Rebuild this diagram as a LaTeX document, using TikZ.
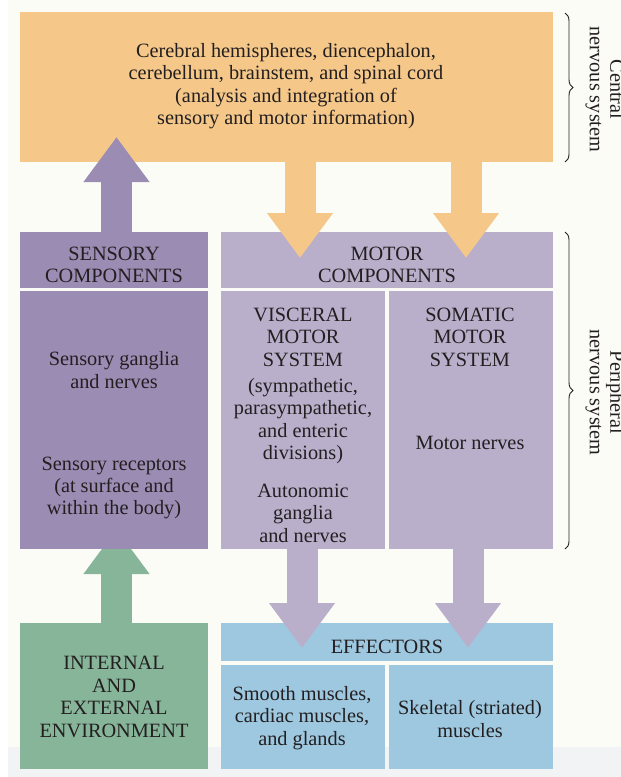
\documentclass[tikz,border=0pt]{standalone}
\usepackage{fontspec}
\setmainfont{Liberation Serif}
\usetikzlibrary{decorations.pathreplacing,arrows.meta,calc}
\definecolor{bgc}{HTML}{FCFCF7}
\definecolor{stripc}{HTML}{F2F3F5}
\definecolor{cnsc}{HTML}{F5C88A}
\definecolor{sensc}{HTML}{9B8CB4}
\definecolor{motc}{HTML}{B9AFCB}
\definecolor{envc}{HTML}{87B59A}
\definecolor{effc}{HTML}{9DC8E0}
\definecolor{txtc}{HTML}{231F20}
\tikzset{
  panel/.style={rectangle, inner sep=0pt, outer sep=0pt, anchor=north west, draw=none},
  lbl/.style={inner sep=0pt, align=center, text=txtc, yshift=-2pt, font=\fontsize{20.3}{22.4}\selectfont},
  sidelbl/.style={lbl, rotate=-90, font=\fontsize{20.3}{20.5}\selectfont},
  blockarrow/.style={line width=31pt, -{Triangle[width=63pt,length=45pt]}},
  bracestyle/.style={decorate, decoration={brace, amplitude=8pt}, draw=txtc, line width=0.9pt},
}
\begin{document}
\begin{tikzpicture}[x=1pt,y=-1pt]
\useasboundingbox (0,0) rectangle (621,777);
\fill[bgc] (0,0) rectangle (621,777);
\fill[white] (0,0) rectangle (8,777);
\fill[stripc] (8,747) rectangle (621,777);

% top level boxes
\node[panel, fill=cnsc, minimum width=533pt, minimum height=150pt] (cns) at (20,12) {};
\node[panel, fill=sensc, minimum width=188pt, minimum height=56pt] (senshead) at (20,232) {};
\node[panel, fill=motc, minimum width=332pt, minimum height=56pt] (mothead) at (221,232) {};

% CNS -> motor arrows
\coordinate (o1tip) at (300,258);
\coordinate (o2tip) at (466,258);
\draw[blockarrow, cnsc] (cns.south -| o1tip) -- (o1tip);
\draw[blockarrow, cnsc] (cns.south -| o2tip) -- (o2tip);
% sensory -> CNS arrow
\coordinate (stip) at (116.5,137);
\draw[blockarrow, sensc] (senshead.north -| stip) -- (stip);

% environment and its arrow (under sensory body box)
\node[panel, fill=envc, minimum width=188pt, minimum height=146pt] (env) at (20,623) {};
\coordinate (gtip) at (116.5,529);
\draw[blockarrow, envc] (env.north -| gtip) -- (gtip);

% PNS body boxes
\node[panel, fill=sensc, minimum width=188pt, minimum height=258pt] (sensbody) at (20,291) {};
\node[panel, fill=motc, minimum width=164pt, minimum height=258pt] (visc) at (221,291) {};
\node[panel, fill=motc, minimum width=164pt, minimum height=258pt] (soma) at (389,291) {};

% effectors
\node[panel, fill=effc, minimum width=332pt, minimum height=38pt] (effhead) at (221,623) {};
\node[panel, fill=effc, minimum width=164pt, minimum height=104pt] (effl) at (221,665) {};
\node[panel, fill=effc, minimum width=164pt, minimum height=104pt] (effr) at (389,665) {};

% motor -> effector arrows
\coordinate (p1tip) at (302,648);
\coordinate (p2tip) at (468,648);
\draw[blockarrow, motc] (visc.south -| p1tip) -- (p1tip);
\draw[blockarrow, motc] (soma.south -| p2tip) -- (p2tip);

% texts
\node[lbl] (tcns) at (286,84) {Cerebral hemispheres, diencephalon,\\cerebellum, brainstem, and spinal cord\\(analysis and integration of\\sensory and motor information)};
\node[lbl] (tsh) at (114,263) {SENSORY\\COMPONENTS};
\node[lbl] (tmh) at (387,263) {MOTOR\\COMPONENTS};
\node[lbl] (tsg) at (114,368) {Sensory ganglia\\and nerves};
\node[lbl] (tsr) at (114,486) {Sensory receptors\\(at surface and\\within the body)};
\node[lbl] (tvh) at (303,335) {VISCERAL\\MOTOR\\SYSTEM};
\node[lbl] (tvd) at (303,419) {(sympathetic,\\parasympathetic,\\and enteric\\divisions)};
\node[lbl] (tva) at (303,511) {Autonomic\\ganglia\\and nerves};
\node[lbl] (tsoh) at (470,335) {SOMATIC\\MOTOR\\SYSTEM};
\node[lbl] (tmn) at (470,441) {Motor nerves};
\node[lbl] (teh) at (387,645) {EFFECTORS};
\node[lbl] (tel) at (302,716) {Smooth muscles,\\cardiac muscles,\\and glands};
\node[lbl] (ter) at (470,717) {Skeletal (striated)\\muscles};
\node[lbl] (tenv) at (114,695) {INTERNAL\\AND\\EXTERNAL\\ENVIRONMENT};

% braces
\coordinate (b1a) at (565,13);
\coordinate (b1b) at (565,162);
\coordinate (b2a) at (565,232);
\coordinate (b2b) at (565,549);
\draw[bracestyle] (b1a) -- (b1b);
\draw[bracestyle] (b2a) -- (b2b);
\node[sidelbl] (tcnsb) at ($(b1a)!0.5!(b1b)+(40,0)$) {Central\\nervous system};
\node[sidelbl] (tpnsb) at ($(b2a)!0.5!(b2b)+(40,0)$) {Peripheral\\nervous system};
\end{tikzpicture}
\end{document}
